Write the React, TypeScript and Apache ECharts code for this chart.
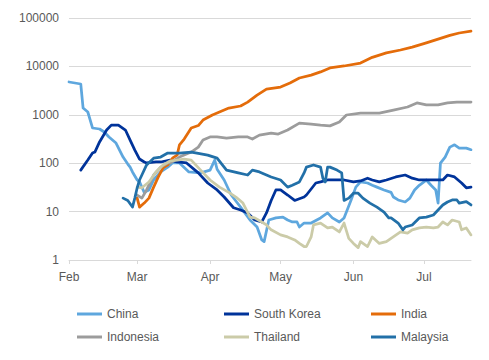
import React, { useEffect, useRef } from 'react';
import * as echarts from 'echarts';

// x values are days since 1 Feb 2020
const monthStarts = [0, 29, 60, 90, 121, 151];
const monthLabels = ['Feb', 'Mar', 'Apr', 'May', 'Jun', 'Jul'];
const xMax = 171;

const seriesNames = ['China', 'South Korea', 'India', 'Indonesia', 'Thailand', 'Malaysia'];
const seriesColors = ['#5EA7DE', '#00339A', '#E46C0A', '#9C9C9C', '#CBCBA8', '#2270A8'];

const chinaDays = [0, 5, 6, 8, 10, 13, 15, 17, 20, 23, 25, 26, 27, 29, 30, 32, 34, 36, 39, 42, 44, 47, 51, 56, 60, 62, 63, 66, 69, 73, 77, 80, 82, 83, 85, 88, 91, 93, 95, 97, 98, 100, 103, 107, 110, 112, 115, 117, 120, 122, 124, 127, 129, 131, 134, 137, 138, 140, 143, 145, 147, 149, 151, 152, 154, 156, 157, 158, 160, 162, 164, 166, 169, 171];
const chinaValues = [4760, 4330, 1380, 1143, 534, 509, 441, 348, 261, 134, 96, 83, 66, 45, 41, 25, 28, 45, 66, 83, 101, 101, 66, 63, 72, 116, 75, 45, 22, 12.4, 6.7, 4.8, 2.6, 2.4, 6.7, 7.4, 7.7, 6.7, 6.1, 6.1, 4.8, 5.8, 5.8, 7.4, 9.4, 7.4, 6.1, 7.4, 17.4, 32, 41, 39, 35, 32, 28, 25, 20, 17.4, 15.8, 19, 28, 35, 41, 45, 35, 28, 15, 100, 134, 215, 240, 205, 205, 190];

const koreaDays = [5, 8, 10, 11, 13, 16, 18, 21, 24, 26, 28, 30, 32, 33, 37, 39, 43, 46, 50, 55, 59, 63, 66, 70, 73, 76, 79, 82, 84, 86, 88, 90, 93, 96, 100, 101, 105, 107, 110, 112, 117, 121, 124, 127, 129, 132, 135, 139, 143, 146, 149, 151, 153, 156, 159, 161, 164, 167, 169, 171];
const koreaValues = [72, 116, 162, 170, 275, 485, 613, 613, 485, 300, 187, 122, 106, 101, 106, 106, 116, 106, 101, 63, 39, 28, 20, 12, 10.8, 9.4, 6.7, 6.1, 9.4, 17, 28, 28, 22, 17, 20, 22, 39, 41, 45, 45, 45, 41, 43, 49, 45, 41, 45, 52, 57, 49, 45, 45, 45, 45, 45, 57, 52, 39, 31, 32];

const indiaDays = [29, 30, 32, 34, 36, 38, 40, 42, 44, 46, 47, 49, 52, 55, 57, 61, 64, 68, 73, 76, 80, 84, 90, 94, 98, 103, 107, 111, 117, 124, 129, 135, 141, 146, 152, 158, 162, 166, 171];
const indiaValues = [19, 12.4, 15, 19, 32, 52, 80, 92, 127, 147, 240, 316, 534, 600, 780, 990, 1140, 1380, 1520, 1830, 2560, 3400, 3750, 4550, 5760, 6600, 7700, 9300, 10200, 11700, 15400, 19000, 21800, 25000, 30600, 38000, 43700, 49000, 53600];

const indonesiaDays = [29, 31, 33, 36, 39, 42, 43, 47, 52, 55, 57, 60, 63, 67, 72, 76, 78, 81, 86, 89, 93, 98, 103, 107, 111, 115, 118, 124, 132, 138, 144, 148, 152, 157, 161, 165, 171];
const indonesiaValues = [22, 19, 28, 57, 83, 101, 101, 134, 170, 215, 300, 348, 348, 330, 348, 348, 316, 380, 420, 400, 485, 675, 645, 610, 590, 710, 990, 1080, 1080, 1250, 1450, 1760, 1600, 1600, 1760, 1830, 1830];

const thailandDays = [29, 31, 34, 37, 40, 43, 46, 49, 52, 56, 60, 64, 68, 71, 74, 77, 79, 82, 84, 86, 90, 93, 96, 98, 100, 101, 103, 104, 107, 110, 112, 115, 117, 119, 121, 123, 124, 127, 129, 132, 135, 137, 141, 144, 146, 149, 152, 155, 157, 159, 161, 163, 166, 167, 169, 171];
const thailandValues = [32, 31, 41, 66, 92, 111, 116, 122, 116, 72, 45, 32, 25, 20, 15, 7.7, 7.4, 6.1, 5.3, 4.2, 3.3, 3.0, 2.6, 2.2, 1.9, 1.9, 3.0, 5.3, 5.8, 4.6, 4.8, 3.8, 5.8, 2.8, 2.2, 1.8, 2.4, 1.9, 3.0, 2.2, 2.4, 2.8, 3.8, 3.6, 4.2, 4.6, 4.8, 4.6, 4.8, 6.1, 5.3, 6.7, 6.1, 4.2, 4.6, 3.3];

const malaysiaDays = [23, 25, 27, 28, 29, 30, 31, 33, 36, 39, 42, 47, 52, 55, 59, 63, 67, 72, 76, 78, 81, 86, 90, 93, 95, 98, 100, 101, 104, 107, 108, 109, 110, 111, 114, 116, 117, 119, 121, 123, 125, 128, 131, 134, 136, 137, 140, 142, 143, 146, 149, 152, 155, 157, 159, 161, 163, 165, 166, 169, 171];
const malaysiaValues = [19, 17, 12.4, 19, 31, 45, 57, 92, 127, 134, 162, 162, 170, 160, 147, 127, 72, 63, 57, 72, 66, 52, 45, 32, 35, 41, 63, 83, 92, 83, 49, 41, 83, 83, 72, 63, 17, 19, 24, 24, 19, 15, 12.4, 9.8, 7.4, 7.4, 5.8, 4.2, 4.8, 5.3, 7.4, 7.7, 8.5, 10.8, 13.7, 15.8, 17.4, 17.4, 15, 16, 13.7];

const allDays = [chinaDays, koreaDays, indiaDays, indonesiaDays, thailandDays, malaysiaDays];
const allValues = [chinaValues, koreaValues, indiaValues, indonesiaValues, thailandValues, malaysiaValues];

const legendLeft = [77, 224, 371];
const legendTop = [308, 331];

const FONT = '"Liberation Sans", Arial, sans-serif';
const TEXT_COLOR = '#595959';

export default function App() {
  const ref = useRef<HTMLDivElement>(null);
  useEffect(() => {
    const chart = echarts.init(ref.current!, null, { renderer: 'svg' });
    const option: any = {
      animation: false,
      backgroundColor: '#ffffff',
      textStyle: { fontFamily: FONT },
      grid: { left: 69, right: 18, top: 18, bottom: 100, containLabel: false },
      xAxis: {
        type: 'value',
        min: 0,
        max: xMax,
        axisLine: { show: true, lineStyle: { color: '#D9D9D9', width: 1 } },
        axisTick: { show: true, length: 4, lineStyle: { color: '#D9D9D9' }, customValues: monthStarts },
        axisLabel: {
          customValues: monthStarts,
          margin: 11,
          color: TEXT_COLOR,
          fontSize: 12,
          fontFamily: FONT,
          formatter: (v: number) => {
            const i = monthStarts.indexOf(Math.round(v));
            return i >= 0 ? monthLabels[i] : '';
          },
        },
        splitLine: { show: false },
      },
      yAxis: {
        type: 'log',
        logBase: 10,
        min: 1,
        max: 100000,
        axisLine: { show: false },
        axisTick: { show: false },
        axisLabel: {
          margin: 10,
          color: TEXT_COLOR,
          fontSize: 12,
          fontFamily: FONT,
          formatter: (v: number) => String(Math.round(v)),
        },
        splitLine: { show: true, lineStyle: { color: '#D9D9D9', width: 1 } },
      },
      legend: seriesNames.map((name, i) => ({
        data: [name],
        left: legendLeft[i % 3],
        top: legendTop[Math.floor(i / 3)],
        padding: 0,
        icon: 'rect',
        itemWidth: 25,
        itemHeight: 3,
        selectedMode: false,
        textStyle: { color: TEXT_COLOR, fontSize: 12, fontFamily: FONT },
      })),
      series: seriesNames.map((name, i) => ({
        name,
        type: 'line',
        showSymbol: false,
        symbol: 'none',
        color: seriesColors[i],
        lineStyle: { color: seriesColors[i], width: 2.75, join: 'round', cap: 'round' },
        data: allDays[i].map((d, k) => [d, allValues[i][k]]),
      })),
    };
    chart.setOption(option);
    return () => chart.dispose();
  }, []);
  return (
    <div
      ref={ref}
      style={{ position: 'absolute', left: 0, top: 0, width: 489, height: 360, background: '#fff' }}
    />
  );
}
